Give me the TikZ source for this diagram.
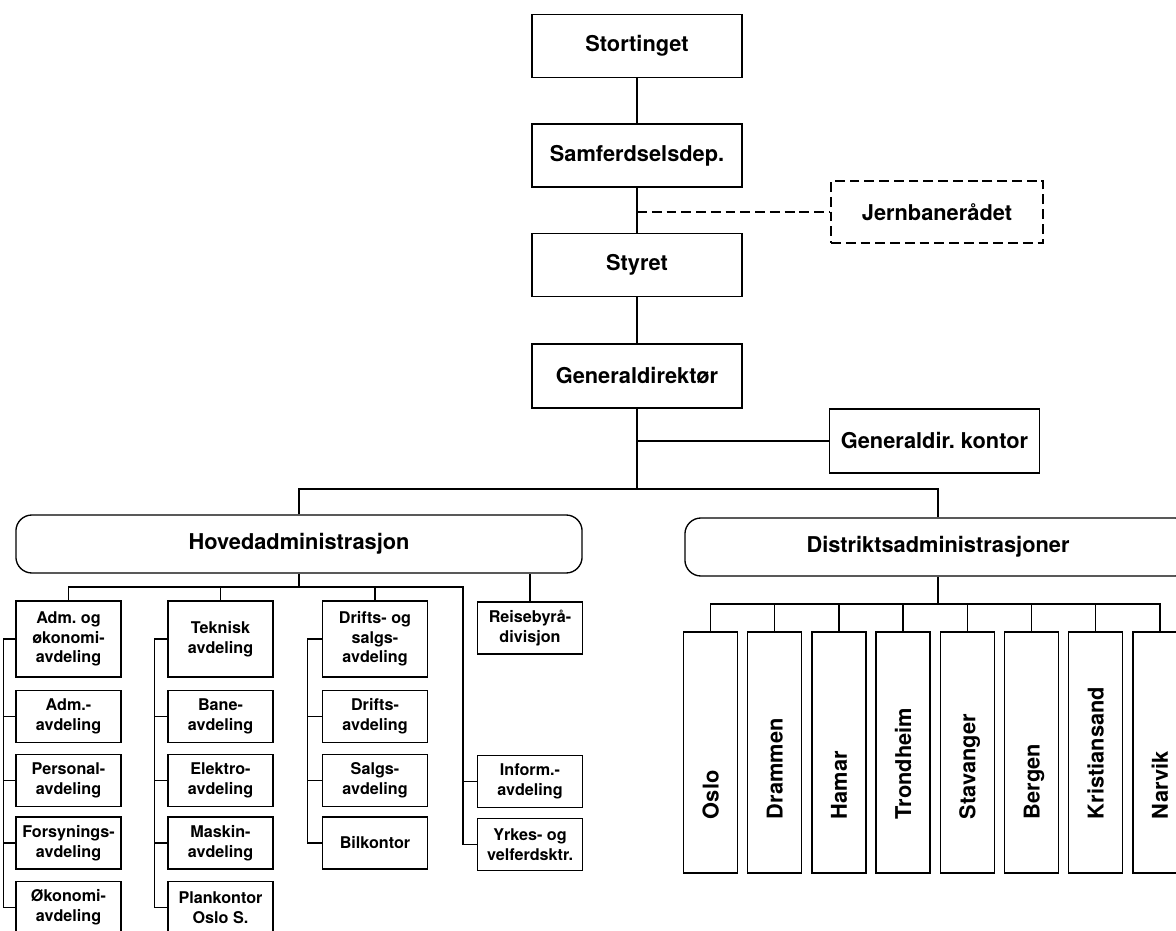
\documentclass[tikz,border=0pt]{standalone}
\usepackage{fontspec}
\setmainfont{TeX Gyre Heros}
\begin{document}
\begin{tikzpicture}[x=0.025cm, y=-0.025cm, line width=0.95pt,
    box/.style={draw, align=center, inner sep=0pt, font=\fontsize{15.5}{18}\selectfont\bfseries},
    big/.style={box, minimum width=5.25cm, minimum height=1.575cm},
    small/.style={box, minimum width=2.625cm, minimum height=1.3cm, font=\fontsize{11.5}{14}\selectfont\bfseries},
    tall/.style={small, minimum height=1.9cm},
    adm/.style={box, rounded corners=0.4cm, minimum height=1.45cm},
    city/.style={draw, minimum width=1.35cm, minimum height=6.025cm},
    cityname/.style={rotate=90, anchor=base west, inner sep=0pt, font=\fontsize{15.5}{18}\selectfont\bfseries},
    dashline/.style={dash pattern=on 7pt off 3.5pt}]
    \useasboundingbox (0,0) rectangle (1176,931);
    \clip (0,0) rectangle (1176,931);
    \fill[white] (0,0) rectangle (1176,931);

    % top of the chart
    \node[big] (St) at (637,46) {Stortinget};
    \node[big] (Sd) at (637,155.5) {Samferdselsdep.};
    \node[big, dashline, minimum width=5.3cm, minimum height=1.55cm] (Jr) at (937,212) {Jernbanerådet};
    \node[big] (Sy) at (637,265) {Styret};
    \node[big, minimum height=1.6cm] (Gd) at (637,376) {Generaldirektør};
    \node[big, minimum height=1.6cm] (Gk) at (934.5,441) {Generaldir.\ kontor};
    \coordinate (bus) at (637,489);
    \node[adm, minimum width=14.15cm] (Ha) at (299,544) {Hovedadministrasjon};
    \node[adm, minimum width=12.65cm] (Da) at (938,547) {Distriktsadministrasjoner};

    \draw (St) -- (Sd);
    \draw (Sd) -- (Sy);
    \draw[dashline] (Jr.west -| Sy.north) -- (Jr.west);
    \draw (Sy) -- (Gd);
    \draw (Gd) -- (bus);
    \draw (Gk.west) -- (Gk.west -| Gd.south);
    \draw (Ha.north) |- (bus) -| (Da.north);

    % Hovedadministrasjon
    \node[tall] (A1) at (68.5,639) {Adm.\ og\\økonomi-\\avdeling};
    \node[small] (A2) at (68.5,716.5) {Adm.-\\avdeling};
    \node[small] (A3) at (68.5,780.5) {Personal-\\avdeling};
    \node[small] (A4) at (68.5,843) {Forsynings-\\avdeling};
    \node[small] (A5) at (68.5,907.5) {Økonomi-\\avdeling};

    \node[tall] (B1) at (220.5,639) {Teknisk\\avdeling};
    \node[small] (B2) at (220.5,716.5) {Bane-\\avdeling};
    \node[small] (B3) at (220.5,780.5) {Elektro-\\avdeling};
    \node[small] (B4) at (220.5,843) {Maskin-\\avdeling};
    \node[small] (B5) at (220.5,907.5) {Plankontor\\Oslo S.};

    \node[tall] (C1) at (375,639) {Drifts- og\\salgs-\\avdeling};
    \node[small] (C2) at (375,716.5) {Drifts-\\avdeling};
    \node[small] (C3) at (375,780.5) {Salgs-\\avdeling};
    \node[small] (C4) at (375,843) {Bilkontor};

    \node[small] (D1) at (530,628) {Reisebyrå-\\divisjon};
    \node[small] (D2) at (530,781.5) {Inform.-\\avdeling};
    \node[small] (D3) at (530,844.5) {Yrkes- og\\velferdsktr.};

    \coordinate (hb) at (463,587);
    \draw (Ha.south) -- (Ha.south |- hb);
    \draw (A1.north) |- (hb) |- (D3.west);
    \draw (B1.north) -- (B1.north |- hb);
    \draw (C1.north) -- (C1.north |- hb);
    \draw (D2.west) -- (D2.west -| hb);
    \draw (D1.north) -- (D1.north |- Ha.south);

    \draw (A1.west) -- ++(-12,0) |- (A5.west);
    \draw (A2.west) -- ++(-12,0);
    \draw (A3.west) -- ++(-12,0);
    \draw (A4.west) -- ++(-12,0);
    \draw (B1.west) -- ++(-13,0) |- (B5.west);
    \draw (B2.west) -- ++(-13,0);
    \draw (B3.west) -- ++(-13,0);
    \draw (B4.west) -- ++(-13,0);
    \draw (C1.west) -- ++(-14,0) |- (C4.west);
    \draw (C2.west) -- ++(-14,0);
    \draw (C3.west) -- ++(-14,0);

    % Distriktsadministrasjoner
    \node[city] (Os) at (710.5,752.5) {};
    \node[city] (Dr) at (774.7,752.5) {};
    \node[city] (Hm) at (838.9,752.5) {};
    \node[city] (Tr) at (903.1,752.5) {};
    \node[city] (Sv) at (967.3,752.5) {};
    \node[city] (Bg) at (1031.5,752.5) {};
    \node[city] (Kr) at (1095.7,752.5) {};
    \node[city] (Na) at (1159.9,752.5) {};
    \node[cityname] (OsT) at ([shift={(8,-54)}]Os.south) {Oslo};
    \node[cityname] (DrT) at ([shift={(8,-54)}]Dr.south) {Drammen};
    \node[cityname] (HmT) at ([shift={(8,-54)}]Hm.south) {Hamar};
    \node[cityname] (TrT) at ([shift={(8,-54)}]Tr.south) {Trondheim};
    \node[cityname] (SvT) at ([shift={(8,-54)}]Sv.south) {Stavanger};
    \node[cityname] (BgT) at ([shift={(8,-54)}]Bg.south) {Bergen};
    \node[cityname] (KrT) at ([shift={(8,-54)}]Kr.south) {Kristiansand};
    \node[cityname] (NaT) at ([shift={(8,-54)}]Na.south) {Narvik};

    \coordinate (db) at (938,604);
    \draw (Da.south) -- (db);
    \draw (Os.north) |- (db) -| (Na.north);
    \draw (Dr.north) -- (Dr.north |- db);
    \draw (Hm.north) -- (Hm.north |- db);
    \draw (Tr.north) -- (Tr.north |- db);
    \draw (Sv.north) -- (Sv.north |- db);
    \draw (Bg.north) -- (Bg.north |- db);
    \draw (Kr.north) -- (Kr.north |- db);
\end{tikzpicture}
\end{document}
